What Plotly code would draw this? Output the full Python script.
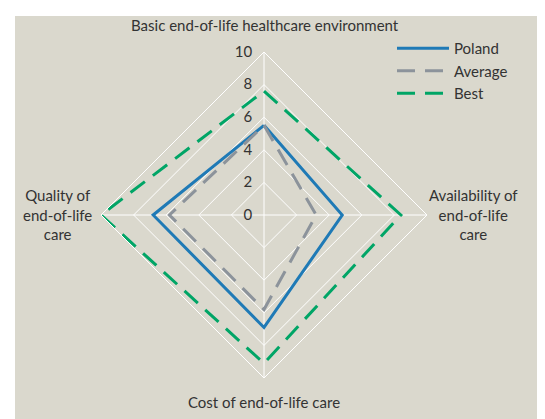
import plotly.graph_objects as go

categories = ["Basic end-of-life healthcare environment", "Availability of end-of-life care",
              "Cost of end-of-life care", "Quality of end-of-life care"]
poland = [5.5, 4.8, 6.9, 6.8]
average = [5.5, 3.2, 5.8, 5.8]
best = [7.6, 8.4, 9.1, 10.0]
radial_ticks = [0, 2, 4, 6, 8, 10]

W, H = 545, 419
BG = "#dad8cd"
FONT = "Lato"
TXT = "#333333"
OFF = 8

def closed(v):
    return v + v[:1]

theta = closed(categories)

fig = go.Figure()
fig.add_trace(go.Scatterpolar(r=closed(poland), theta=theta, mode="lines", name="Poland",
                              line=dict(color="#1f7ab6", width=3)))
fig.add_trace(go.Scatterpolar(r=closed(average), theta=theta, mode="lines", name="Average",
                              line=dict(color="#8c939b", width=3, dash="18px,10px")))
fig.add_trace(go.Scatterpolar(r=closed(best), theta=theta, mode="lines", name="Best",
                              line=dict(color="#00a566", width=3, dash="18px,10px")))

cx, cy, R = 264 - OFF, 215 - OFF, 163
fig.update_layout(
    width=W, height=H,
    margin=dict(l=0, r=0, t=0, b=0),
    paper_bgcolor=BG,
    font=dict(family=FONT, size=15, color=TXT),
    polar=dict(
        domain=dict(x=[(cx - R) / W, (cx + R) / W], y=[(H - cy - R) / H, (H - cy + R) / H]),
        bgcolor="rgba(0,0,0,0)",
        gridshape="linear",
        radialaxis=dict(range=[0, 10], tickvals=radial_ticks, angle=90, tickangle=90,
                        side="counterclockwise", showline=False, gridcolor="white", gridwidth=1,
                        ticks="outside", ticklen=6, tickcolor="rgba(0,0,0,0)",
                        tickfont=dict(size=15, color=TXT)),
        angularaxis=dict(rotation=90, direction="clockwise", showticklabels=False, ticks="",
                         showline=True, linecolor="white", linewidth=1, gridcolor="white", gridwidth=1),
    ),
    legend=dict(x=384 / W, y=1 - 24 / H, xanchor="left", yanchor="top", bgcolor="rgba(0,0,0,0)",
                font=dict(size=15, color=TXT), itemwidth=52, tracegroupgap=0),
    shapes=[
        dict(type="rect", xref="paper", yref="paper", x0=0, x1=7 / W, y0=0, y1=1,
             fillcolor="white", line=dict(width=0), layer="below"),
        dict(type="rect", xref="paper", yref="paper", x0=0, x1=1, y0=1 - 8 / H, y1=1,
             fillcolor="white", line=dict(width=0), layer="below"),
    ],
    showlegend=True,
)

labels = [
    ("Basic end-of-life healthcare environment", 265, 25),
    ("Availability of<br>end-of-life<br>care", 473, 215),
    ("Cost of end-of-life care", 264, 402),
    ("Quality of<br>end-of-life<br>care", 57, 215),
]
for txt, x, y in labels:
    fig.add_annotation(text=txt, x=(x - OFF) / W, y=1 - (y - OFF) / H, xref="paper", yref="paper",
                       xanchor="center", yanchor="middle", showarrow=False, align="center",
                       font=dict(size=15, color=TXT, family=FONT))

fig.write_html("out.html")
